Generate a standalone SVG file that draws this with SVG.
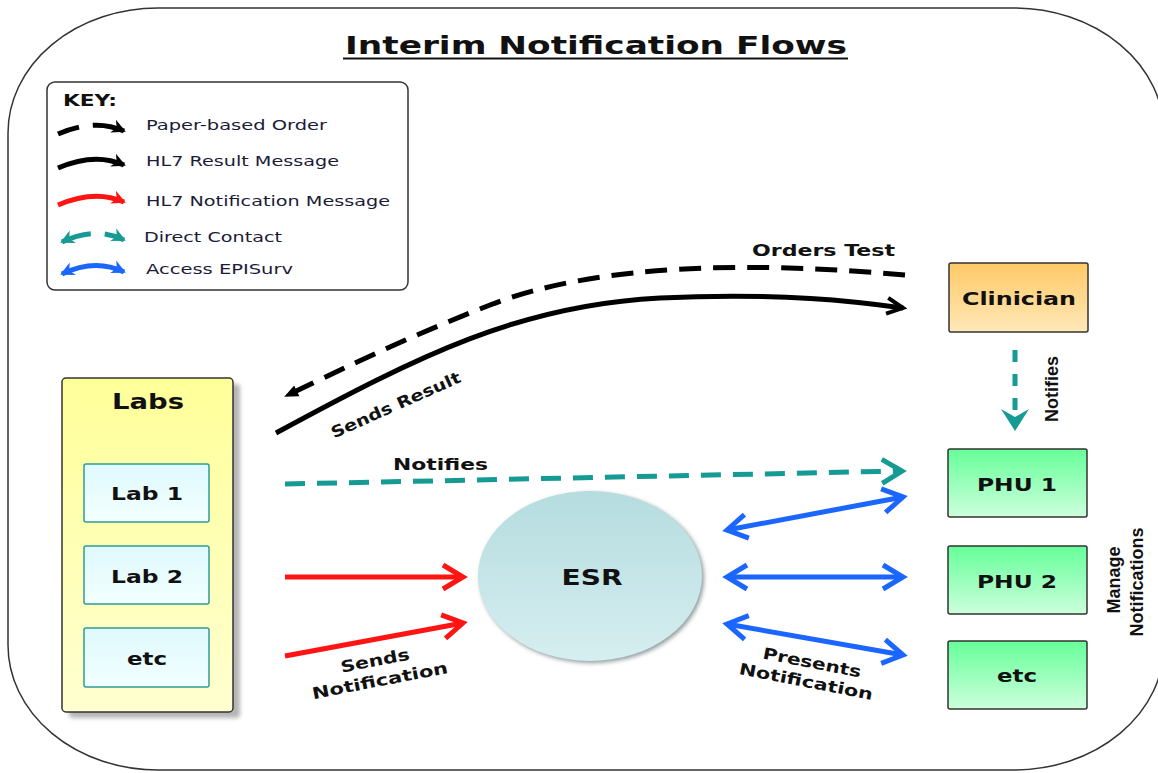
<svg xmlns="http://www.w3.org/2000/svg" width="1158" height="773" viewBox="0 0 1158 773">
<style>
.t{font-family:"DejaVu Sans",Verdana,sans-serif;font-weight:bold;fill:#111;}
.k{font-family:"DejaVu Sans",Verdana,sans-serif;font-size:14px;fill:#1c1c38;}
.a{font-family:"Liberation Sans",Arial,sans-serif;font-weight:bold;fill:#111;}
.box{stroke:#333;stroke-width:1.5;}
.lab{fill:url(#gLab);stroke:#2f9c96;stroke-width:1.5;}
.phu{fill:url(#gPhu);stroke:#333;stroke-width:1.5;}
.c{fill:none;stroke-width:5;}
</style>
<defs>
<linearGradient id="gLabs" x1="0" y1="0" x2="0" y2="1"><stop offset="0" stop-color="#ffff99"/><stop offset="1" stop-color="#ffffd0"/></linearGradient>
<linearGradient id="gLab" x1="0" y1="0" x2="0" y2="1"><stop offset="0" stop-color="#dff9fd"/><stop offset="1" stop-color="#f2ffff"/></linearGradient>
<linearGradient id="gCli" x1="0" y1="0" x2="0" y2="1"><stop offset="0" stop-color="#ffc966"/><stop offset="1" stop-color="#ffe8b8"/></linearGradient>
<linearGradient id="gPhu" x1="0" y1="0" x2="0" y2="1"><stop offset="0" stop-color="#66ff99"/><stop offset="1" stop-color="#ccffdc"/></linearGradient>
<linearGradient id="gEsr" x1="0" y1="0" x2="0" y2="1"><stop offset="0" stop-color="#b5dcdf"/><stop offset="1" stop-color="#d6eef0"/></linearGradient>
<filter id="blur" x="-20%" y="-20%" width="140%" height="140%"><feGaussianBlur stdDeviation="2"/></filter>
<marker id="mRed" markerUnits="userSpaceOnUse" viewBox="0 0 30 30" markerWidth="30" markerHeight="30" refX="24" refY="15" orient="auto-start-reverse"><path d="M4,3 L24,15 L4,27" fill="none" stroke="#ff1414" stroke-width="5"/></marker>
<marker id="mBlue" markerUnits="userSpaceOnUse" viewBox="0 0 30 30" markerWidth="30" markerHeight="30" refX="24" refY="15" orient="auto-start-reverse"><path d="M4,3 L24,15 L4,27" fill="none" stroke="#1a66ff" stroke-width="5"/></marker>
<marker id="mTeal" markerUnits="userSpaceOnUse" viewBox="0 0 30 30" markerWidth="30" markerHeight="30" refX="24" refY="15" orient="auto-start-reverse"><path d="M4,3 L24,15 L4,27" fill="none" stroke="#169a94" stroke-width="5"/></marker>
<marker id="mBlk" markerUnits="userSpaceOnUse" viewBox="0 0 24 24" markerWidth="24" markerHeight="24" refX="20" refY="12" orient="auto-start-reverse"><path d="M4,4 L20,12 L4,20" fill="none" stroke="#000" stroke-width="4"/></marker>
<marker id="mTri" markerUnits="userSpaceOnUse" viewBox="0 0 16 16" markerWidth="16" markerHeight="16" refX="12" refY="8" orient="auto-start-reverse"><path d="M0,2 L14,8 L0,14 z" fill="#000"/></marker>
<marker id="kBlk" markerUnits="userSpaceOnUse" viewBox="0 0 16 16" markerWidth="16" markerHeight="16" refX="12" refY="8" orient="auto-start-reverse"><path d="M0,1 L14,8 L0,15 L4,8 z" fill="#000"/></marker>
<marker id="kRed" markerUnits="userSpaceOnUse" viewBox="0 0 16 16" markerWidth="16" markerHeight="16" refX="12" refY="8" orient="auto-start-reverse"><path d="M0,1 L14,8 L0,15 L4,8 z" fill="#ff1414"/></marker>
<marker id="kTeal" markerUnits="userSpaceOnUse" viewBox="0 0 16 16" markerWidth="16" markerHeight="16" refX="12" refY="8" orient="auto-start-reverse"><path d="M0,1 L14,8 L0,15 L4,8 z" fill="#169a94"/></marker>
<marker id="kBlue" markerUnits="userSpaceOnUse" viewBox="0 0 16 16" markerWidth="16" markerHeight="16" refX="12" refY="8" orient="auto-start-reverse"><path d="M0,1 L14,8 L0,15 L4,8 z" fill="#1a66ff"/></marker>
</defs>
<rect width="1158" height="773" fill="#fff"/>
<rect x="8" y="8" width="1156" height="762" rx="150" ry="125" fill="#fff" stroke="#333" stroke-width="1.5"/>
<g id="title">
<text class="t" x="345" y="54" font-size="24" textLength="502" lengthAdjust="spacingAndGlyphs">Interim Notification Flows</text>
<line x1="343" y1="58.5" x2="848" y2="58.5" stroke="#111" stroke-width="2"/>
</g>
<g id="key">
<rect x="47" y="82" width="361" height="208" rx="8" fill="#fff" stroke="#333" stroke-width="1.5"/>
<text class="t" x="63" y="106" font-size="16" textLength="54" lengthAdjust="spacingAndGlyphs">KEY:</text>
<path d="M58,134 Q95,118 124,131" class="c" stroke="#000" stroke-width="4.5" stroke-dasharray="22,14,60" marker-end="url(#kBlk)"/>
<path d="M58,168 Q95,152 124,165" class="c" stroke="#000" stroke-width="4.5" marker-end="url(#kBlk)"/>
<path d="M58,205 Q95,189 124,202" class="c" stroke="#ff1414" stroke-width="4.5" marker-end="url(#kRed)"/>
<path d="M62,242 Q95,226 124,240" class="c" stroke="#169a94" stroke-width="4.5" stroke-dasharray="30,14,60" marker-start="url(#kTeal)" marker-end="url(#kTeal)"/>
<path d="M62,274 Q95,258 124,272" class="c" stroke="#1a66ff" stroke-width="4.5" marker-start="url(#kBlue)" marker-end="url(#kBlue)"/>
<text class="k" x="146" y="130" textLength="181" lengthAdjust="spacingAndGlyphs">Paper-based Order</text>
<text class="k" x="146" y="166" textLength="193" lengthAdjust="spacingAndGlyphs">HL7 Result Message</text>
<text class="k" x="146" y="206" textLength="244" lengthAdjust="spacingAndGlyphs">HL7 Notification Message</text>
<text class="k" x="144" y="242" textLength="138" lengthAdjust="spacingAndGlyphs">Direct Contact</text>
<text class="k" x="146" y="274" textLength="147" lengthAdjust="spacingAndGlyphs">Access EPISurv</text>
</g>
<g id="labs">
<rect x="69" y="384" width="171" height="334" rx="4" fill="#b5b5b5" filter="url(#blur)"/>
<rect x="62" y="378" width="171" height="334" rx="4" fill="url(#gLabs)" class="box"/>
<text class="t" x="148" y="409" font-size="22" text-anchor="middle" textLength="72" lengthAdjust="spacingAndGlyphs">Labs</text>
</g>
<g id="lab1">
<rect x="84" y="464" width="125" height="58" rx="2" class="lab"/>
<text class="t" x="147" y="500" font-size="17" text-anchor="middle" textLength="72" lengthAdjust="spacingAndGlyphs">Lab 1</text>
</g>
<g id="lab2">
<rect x="84" y="546" width="125" height="58" rx="2" class="lab"/>
<text class="t" x="147" y="583" font-size="17" text-anchor="middle" textLength="72" lengthAdjust="spacingAndGlyphs">Lab 2</text>
</g>
<g id="labetc">
<rect x="84" y="628" width="125" height="59" rx="2" class="lab"/>
<text class="t" x="147" y="665" font-size="17" text-anchor="middle" textLength="40" lengthAdjust="spacingAndGlyphs">etc</text>
</g>
<g id="clinician">
<rect x="949" y="263" width="139" height="69" rx="2" fill="url(#gCli)" class="box"/>
<text class="t" x="1019" y="305" font-size="17" text-anchor="middle" textLength="114" lengthAdjust="spacingAndGlyphs">Clinician</text>
</g>
<g id="phu1">
<rect x="948" y="449" width="139" height="68" rx="2" class="phu"/>
<text class="t" x="1017" y="491" font-size="17" text-anchor="middle" textLength="80" lengthAdjust="spacingAndGlyphs">PHU 1</text>
</g>
<g id="phu2">
<rect x="948" y="546" width="139" height="68" rx="2" class="phu"/>
<text class="t" x="1017" y="588" font-size="17" text-anchor="middle" textLength="80" lengthAdjust="spacingAndGlyphs">PHU 2</text>
</g>
<g id="phuetc">
<rect x="948" y="641" width="139" height="68" rx="2" class="phu"/>
<text class="t" x="1017" y="682" font-size="17" text-anchor="middle" textLength="40" lengthAdjust="spacingAndGlyphs">etc</text>
</g>
<g id="esr">
<ellipse cx="592" cy="578" rx="112" ry="85" fill="#8f9c9d" filter="url(#blur)"/>
<ellipse cx="590" cy="576" rx="112" ry="85" fill="url(#gEsr)"/>
<text class="t" x="592" y="585" font-size="22" text-anchor="middle" textLength="61" lengthAdjust="spacingAndGlyphs">ESR</text>
</g>
<g id="connectors">
<path d="M905,275 C760,262 600,262 490,305 C400,340 330,375 286,396" class="c" stroke="#000" stroke-dasharray="22,12" marker-end="url(#mTri)"/>
<path d="M276,433 C420,355 520,305 660,298 C780,292 860,302 903,308" class="c" stroke="#000" marker-end="url(#mBlk)"/>
<path d="M285,484 L902,471" class="c" stroke="#169a94" stroke-dasharray="20,12" marker-end="url(#mTeal)"/>
<path d="M1015,350 L1015,418" class="c" stroke="#169a94" stroke-width="6" stroke-dasharray="12,12"/>
<path d="M1001,409 L1015,431 L1029,409 L1015,417 z" fill="#169a94"/>
<path d="M285,577 L463,577" class="c" stroke="#ff1414" marker-end="url(#mRed)"/>
<path d="M285,656 L463,623" class="c" stroke="#ff1414" marker-end="url(#mRed)"/>
<path d="M727,530 L903,497" class="c" stroke="#1a66ff" marker-start="url(#mBlue)" marker-end="url(#mBlue)"/>
<path d="M727,577 L903,577" class="c" stroke="#1a66ff" marker-start="url(#mBlue)" marker-end="url(#mBlue)"/>
<path d="M727,624 L903,655" class="c" stroke="#1a66ff" marker-start="url(#mBlue)" marker-end="url(#mBlue)"/>
<text class="t" x="752" y="256" font-size="16" textLength="143" lengthAdjust="spacingAndGlyphs">Orders Test</text>
<text class="t" font-size="16" text-anchor="middle" transform="translate(398,410) rotate(-24)" textLength="140" lengthAdjust="spacingAndGlyphs">Sends Result</text>
<text class="t" x="393" y="470" font-size="16" textLength="95" lengthAdjust="spacingAndGlyphs">Notifies</text>
<text class="a" font-size="18" text-anchor="middle" transform="translate(1058,389) rotate(-90)">Notifies</text>
<text class="t" font-size="16" text-anchor="middle" transform="translate(376,666) rotate(-11)" textLength="70" lengthAdjust="spacingAndGlyphs">Sends</text>
<text class="t" font-size="16" text-anchor="middle" transform="translate(381,686) rotate(-11)" textLength="138" lengthAdjust="spacingAndGlyphs">Notification</text>
<text class="t" font-size="16" text-anchor="middle" transform="translate(811,668) rotate(11)" textLength="100" lengthAdjust="spacingAndGlyphs">Presents</text>
<text class="t" font-size="16" text-anchor="middle" transform="translate(805,687) rotate(11)" textLength="136" lengthAdjust="spacingAndGlyphs">Notification</text>
<text class="a" font-size="18" text-anchor="middle" transform="translate(1120,580) rotate(-90)">Manage</text>
<text class="a" font-size="18" text-anchor="middle" transform="translate(1143,582) rotate(-90)">Notifications</text>
</g>
</svg>
